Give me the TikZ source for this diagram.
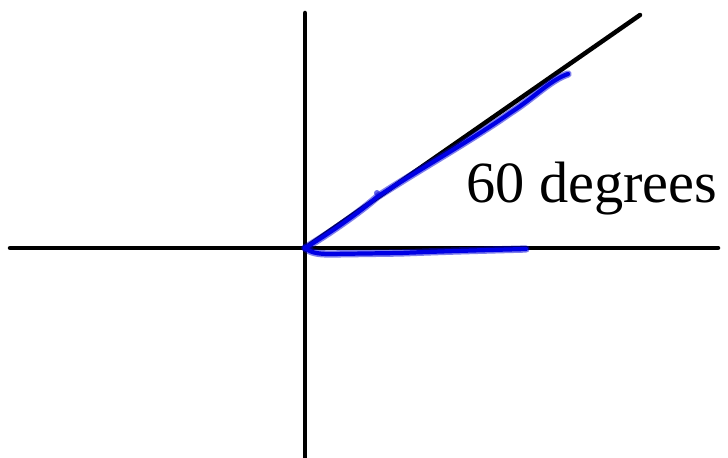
\documentclass[tikz,border=0pt]{standalone}
\usepackage{fontspec}
\setmainfont{Liberation Serif}

\begin{document}
\begin{tikzpicture}[x=0.025cm,y=-0.025cm,
  axis/.style={line width=3.2pt,line cap=round,color=black},
  ink/.style={line width=5.2pt,line cap=round,line join=round,color=blue!85!black,draw opacity=0.5},
  inkcore/.style={line width=3pt,line cap=round,line join=round,color=blue!90!black}]

\useasboundingbox (0,0) rectangle (728,458);

\coordinate (O) at (305,248);
\coordinate (W) at (10,248);
\coordinate (E) at (718,248);
\coordinate (N) at (305,13);
\coordinate (S) at (305,462);
\coordinate (R) at (640,15);

\draw[axis] (W) -- (E);
\draw[axis] (N) -- (S);
\draw[axis] (O) -- (R);

% blue strokes
\foreach \s in {ink,inkcore}{
  \draw[\s] (O) .. controls (330,233) and (360,212) .. (377,197)
    .. controls (420,169) and (470,141) .. (510,113)
    .. controls (535,97) and (550,80) .. (568,74);
  \draw[\s] (O) .. controls (310,252) and (316,254) .. (330,254)
    -- (400,253) .. controls (450,251) and (490,250) .. (526,249);
}
\fill[blue!85!black,opacity=0.6] (377,193) circle (3);

\node[anchor=base west,inner sep=0pt,font=\fontsize{41.5}{48}\selectfont] (lbl) at (466,203) {60 degrees};
\end{tikzpicture}
\end{document}
